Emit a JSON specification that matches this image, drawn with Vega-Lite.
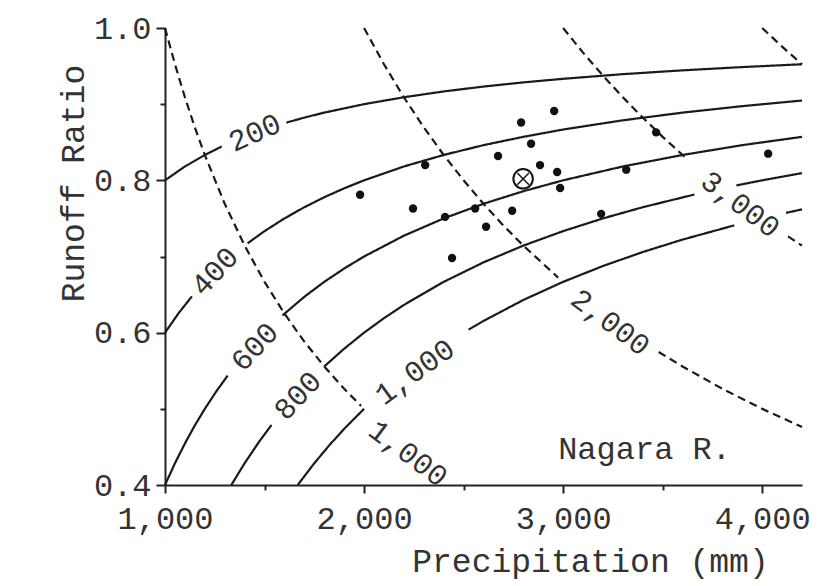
{
  "$schema": "https://vega.github.io/schema/vega-lite/v6.json",
  "width": 637,
  "height": 457,
  "autosize": {"type": "none"},
  "padding": {"left": 165, "top": 28, "right": 35, "bottom": 101},
  "background": "white",
  "config": {
    "view": {"stroke": null},
    "axis": {
      "grid": false,
      "domainColor": "#222",
      "domainWidth": 2,
      "tickColor": "#222",
      "tickWidth": 2,
      "labelFont": "Liberation Mono",
      "labelFontSize": 32,
      "labelColor": "#333",
      "labelFlush": false,
      "titleFont": "Liberation Mono",
      "titleFontSize": 33,
      "titleFontWeight": "normal",
      "titleColor": "#333"
    }
  },
  "datasets": {
    "curves": [
      {"P": 1000, "R": 0.8, "seg": "E200a", "kind": "solid"},
      {"P": 1100, "R": 0.8182, "seg": "E200a", "kind": "solid"},
      {"P": 1200, "R": 0.8333, "seg": "E200a", "kind": "solid"},
      {"P": 1285, "R": 0.8444, "seg": "E200a", "kind": "solid"},
      {"P": 1610, "R": 0.8758, "seg": "E200b", "kind": "solid"},
      {"P": 1700, "R": 0.8824, "seg": "E200b", "kind": "solid"},
      {"P": 1800, "R": 0.8889, "seg": "E200b", "kind": "solid"},
      {"P": 2000, "R": 0.9, "seg": "E200b", "kind": "solid"},
      {"P": 2200, "R": 0.9091, "seg": "E200b", "kind": "solid"},
      {"P": 2400, "R": 0.9167, "seg": "E200b", "kind": "solid"},
      {"P": 2600, "R": 0.9231, "seg": "E200b", "kind": "solid"},
      {"P": 2800, "R": 0.9286, "seg": "E200b", "kind": "solid"},
      {"P": 3000, "R": 0.9333, "seg": "E200b", "kind": "solid"},
      {"P": 3300, "R": 0.9394, "seg": "E200b", "kind": "solid"},
      {"P": 3600, "R": 0.9444, "seg": "E200b", "kind": "solid"},
      {"P": 3900, "R": 0.9487, "seg": "E200b", "kind": "solid"},
      {"P": 4200, "R": 0.9524, "seg": "E200b", "kind": "solid"},

      {"P": 1000, "R": 0.6, "seg": "E400a", "kind": "solid"},
      {"P": 1070, "R": 0.6262, "seg": "E400a", "kind": "solid"},
      {"P": 1135, "R": 0.6476, "seg": "E400a", "kind": "solid"},
      {"P": 1415, "R": 0.7173, "seg": "E400b", "kind": "solid"},
      {"P": 1500, "R": 0.7333, "seg": "E400b", "kind": "solid"},
      {"P": 1600, "R": 0.75, "seg": "E400b", "kind": "solid"},
      {"P": 1700, "R": 0.7647, "seg": "E400b", "kind": "solid"},
      {"P": 1800, "R": 0.7778, "seg": "E400b", "kind": "solid"},
      {"P": 1900, "R": 0.7895, "seg": "E400b", "kind": "solid"},
      {"P": 2000, "R": 0.8, "seg": "E400b", "kind": "solid"},
      {"P": 2200, "R": 0.8182, "seg": "E400b", "kind": "solid"},
      {"P": 2400, "R": 0.8333, "seg": "E400b", "kind": "solid"},
      {"P": 2600, "R": 0.8462, "seg": "E400b", "kind": "solid"},
      {"P": 2800, "R": 0.8571, "seg": "E400b", "kind": "solid"},
      {"P": 3000, "R": 0.8667, "seg": "E400b", "kind": "solid"},
      {"P": 3300, "R": 0.8788, "seg": "E400b", "kind": "solid"},
      {"P": 3600, "R": 0.8889, "seg": "E400b", "kind": "solid"},
      {"P": 3900, "R": 0.8974, "seg": "E400b", "kind": "solid"},
      {"P": 4200, "R": 0.9048, "seg": "E400b", "kind": "solid"},

      {"P": 1000, "R": 0.4, "seg": "E600a", "kind": "solid"},
      {"P": 1050, "R": 0.4286, "seg": "E600a", "kind": "solid"},
      {"P": 1100, "R": 0.4545, "seg": "E600a", "kind": "solid"},
      {"P": 1150, "R": 0.4783, "seg": "E600a", "kind": "solid"},
      {"P": 1200, "R": 0.5, "seg": "E600a", "kind": "solid"},
      {"P": 1260, "R": 0.5238, "seg": "E600a", "kind": "solid"},
      {"P": 1315, "R": 0.5437, "seg": "E600a", "kind": "solid"},
      {"P": 1590, "R": 0.6226, "seg": "E600b", "kind": "solid"},
      {"P": 1700, "R": 0.6471, "seg": "E600b", "kind": "solid"},
      {"P": 1800, "R": 0.6667, "seg": "E600b", "kind": "solid"},
      {"P": 1900, "R": 0.6842, "seg": "E600b", "kind": "solid"},
      {"P": 2000, "R": 0.7, "seg": "E600b", "kind": "solid"},
      {"P": 2200, "R": 0.7273, "seg": "E600b", "kind": "solid"},
      {"P": 2400, "R": 0.75, "seg": "E600b", "kind": "solid"},
      {"P": 2600, "R": 0.7692, "seg": "E600b", "kind": "solid"},
      {"P": 2800, "R": 0.7857, "seg": "E600b", "kind": "solid"},
      {"P": 3000, "R": 0.8, "seg": "E600b", "kind": "solid"},
      {"P": 3300, "R": 0.8182, "seg": "E600b", "kind": "solid"},
      {"P": 3600, "R": 0.8333, "seg": "E600b", "kind": "solid"},
      {"P": 3900, "R": 0.8462, "seg": "E600b", "kind": "solid"},
      {"P": 4200, "R": 0.8571, "seg": "E600b", "kind": "solid"},

      {"P": 1333.3, "R": 0.4, "seg": "E800a", "kind": "solid"},
      {"P": 1400, "R": 0.4286, "seg": "E800a", "kind": "solid"},
      {"P": 1470, "R": 0.4558, "seg": "E800a", "kind": "solid"},
      {"P": 1535, "R": 0.4788, "seg": "E800a", "kind": "solid"},
      {"P": 1800, "R": 0.5556, "seg": "E800b", "kind": "solid"},
      {"P": 1900, "R": 0.5789, "seg": "E800b", "kind": "solid"},
      {"P": 2000, "R": 0.6, "seg": "E800b", "kind": "solid"},
      {"P": 2100, "R": 0.619, "seg": "E800b", "kind": "solid"},
      {"P": 2200, "R": 0.6364, "seg": "E800b", "kind": "solid"},
      {"P": 2400, "R": 0.6667, "seg": "E800b", "kind": "solid"},
      {"P": 2600, "R": 0.6923, "seg": "E800b", "kind": "solid"},
      {"P": 2800, "R": 0.7143, "seg": "E800b", "kind": "solid"},
      {"P": 3000, "R": 0.7333, "seg": "E800b", "kind": "solid"},
      {"P": 3200, "R": 0.75, "seg": "E800b", "kind": "solid"},
      {"P": 3400, "R": 0.7647, "seg": "E800b", "kind": "solid"},
      {"P": 3660, "R": 0.7814, "seg": "E800b", "kind": "solid"},
      {"P": 3870, "R": 0.7933, "seg": "E800c", "kind": "solid"},
      {"P": 4000, "R": 0.8, "seg": "E800c", "kind": "solid"},
      {"P": 4200, "R": 0.8095, "seg": "E800c", "kind": "solid"},

      {"P": 1666.7, "R": 0.4, "seg": "E1000a", "kind": "solid"},
      {"P": 1750, "R": 0.4286, "seg": "E1000a", "kind": "solid"},
      {"P": 1830, "R": 0.4536, "seg": "E1000a", "kind": "solid"},
      {"P": 1910, "R": 0.4764, "seg": "E1000a", "kind": "solid"},
      {"P": 2000, "R": 0.5, "seg": "E1000a", "kind": "solid"},
      {"P": 2525, "R": 0.604, "seg": "E1000b", "kind": "solid"},
      {"P": 2600, "R": 0.6154, "seg": "E1000b", "kind": "solid"},
      {"P": 2800, "R": 0.6429, "seg": "E1000b", "kind": "solid"},
      {"P": 3000, "R": 0.6667, "seg": "E1000b", "kind": "solid"},
      {"P": 3200, "R": 0.6875, "seg": "E1000b", "kind": "solid"},
      {"P": 3400, "R": 0.7059, "seg": "E1000b", "kind": "solid"},
      {"P": 3600, "R": 0.7222, "seg": "E1000b", "kind": "solid"},
      {"P": 3860, "R": 0.7409, "seg": "E1000b", "kind": "solid"},
      {"P": 4120, "R": 0.7573, "seg": "E1000c", "kind": "solid"},
      {"P": 4200, "R": 0.7619, "seg": "E1000c", "kind": "solid"},

      {"P": 1000, "R": 1.0, "seg": "Q1000", "kind": "dashed"},
      {"P": 1050, "R": 0.9524, "seg": "Q1000", "kind": "dashed"},
      {"P": 1100, "R": 0.9091, "seg": "Q1000", "kind": "dashed"},
      {"P": 1150, "R": 0.8696, "seg": "Q1000", "kind": "dashed"},
      {"P": 1200, "R": 0.8333, "seg": "Q1000", "kind": "dashed"},
      {"P": 1300, "R": 0.7692, "seg": "Q1000", "kind": "dashed"},
      {"P": 1400, "R": 0.7143, "seg": "Q1000", "kind": "dashed"},
      {"P": 1500, "R": 0.6667, "seg": "Q1000", "kind": "dashed"},
      {"P": 1600, "R": 0.625, "seg": "Q1000", "kind": "dashed"},
      {"P": 1700, "R": 0.5882, "seg": "Q1000", "kind": "dashed"},
      {"P": 1800, "R": 0.5556, "seg": "Q1000", "kind": "dashed"},
      {"P": 1900, "R": 0.5263, "seg": "Q1000", "kind": "dashed"},
      {"P": 1985, "R": 0.5038, "seg": "Q1000", "kind": "dashed"},

      {"P": 2000, "R": 1.0, "seg": "Q2000a", "kind": "dashed"},
      {"P": 2100, "R": 0.9524, "seg": "Q2000a", "kind": "dashed"},
      {"P": 2200, "R": 0.9091, "seg": "Q2000a", "kind": "dashed"},
      {"P": 2300, "R": 0.8696, "seg": "Q2000a", "kind": "dashed"},
      {"P": 2400, "R": 0.8333, "seg": "Q2000a", "kind": "dashed"},
      {"P": 2500, "R": 0.8, "seg": "Q2000a", "kind": "dashed"},
      {"P": 2600, "R": 0.7692, "seg": "Q2000a", "kind": "dashed"},
      {"P": 2700, "R": 0.7407, "seg": "Q2000a", "kind": "dashed"},
      {"P": 2800, "R": 0.7143, "seg": "Q2000a", "kind": "dashed"},
      {"P": 2975, "R": 0.6723, "seg": "Q2000a", "kind": "dashed"},
      {"P": 3480, "R": 0.5747, "seg": "Q2000b", "kind": "dashed"},
      {"P": 3600, "R": 0.5556, "seg": "Q2000b", "kind": "dashed"},
      {"P": 3800, "R": 0.5263, "seg": "Q2000b", "kind": "dashed"},
      {"P": 4000, "R": 0.5, "seg": "Q2000b", "kind": "dashed"},
      {"P": 4200, "R": 0.4762, "seg": "Q2000b", "kind": "dashed"},

      {"P": 3000, "R": 1.0, "seg": "Q3000a", "kind": "dashed"},
      {"P": 3100, "R": 0.9677, "seg": "Q3000a", "kind": "dashed"},
      {"P": 3200, "R": 0.9375, "seg": "Q3000a", "kind": "dashed"},
      {"P": 3300, "R": 0.9091, "seg": "Q3000a", "kind": "dashed"},
      {"P": 3400, "R": 0.8824, "seg": "Q3000a", "kind": "dashed"},
      {"P": 3500, "R": 0.8571, "seg": "Q3000a", "kind": "dashed"},
      {"P": 3610, "R": 0.831, "seg": "Q3000a", "kind": "dashed"},
      {"P": 4130, "R": 0.7264, "seg": "Q3000b", "kind": "dashed"},
      {"P": 4200, "R": 0.7143, "seg": "Q3000b", "kind": "dashed"},

      {"P": 4000, "R": 1.0, "seg": "Q4000", "kind": "dashed"},
      {"P": 4100, "R": 0.9756, "seg": "Q4000", "kind": "dashed"},
      {"P": 4200, "R": 0.9524, "seg": "Q4000", "kind": "dashed"}
    ],
    "points": [
      {"P": 2955, "R": 0.891},
      {"P": 2789, "R": 0.876},
      {"P": 2839, "R": 0.848},
      {"P": 2673, "R": 0.832},
      {"P": 2307, "R": 0.82},
      {"P": 2884, "R": 0.82},
      {"P": 2970, "R": 0.811},
      {"P": 2985, "R": 0.79},
      {"P": 3317, "R": 0.814},
      {"P": 3467, "R": 0.863},
      {"P": 4030, "R": 0.835},
      {"P": 1980, "R": 0.781},
      {"P": 2246, "R": 0.763},
      {"P": 2407, "R": 0.752},
      {"P": 2558, "R": 0.763},
      {"P": 2744, "R": 0.76},
      {"P": 2613, "R": 0.739},
      {"P": 3191, "R": 0.756},
      {"P": 2442, "R": 0.698}
    ],
    "mean": [
      {"P": 2799, "R": 0.802}
    ],
    "labels": [
      {"P": 1452, "R": 0.862, "label": "200", "group": "a"},
      {"P": 1251, "R": 0.68, "label": "400", "group": "b"},
      {"P": 1452, "R": 0.581, "label": "600", "group": "b"},
      {"P": 1668, "R": 0.517, "label": "800", "group": "b"},
      {"P": 2256, "R": 0.548, "label": "1,000", "group": "c"},
      {"P": 2220, "R": 0.441, "label": "1,000", "group": "d"},
      {"P": 3236, "R": 0.613, "label": "2,000", "group": "d"},
      {"P": 3889, "R": 0.768, "label": "3,000", "group": "d"}
    ],
    "note": [
      {"P": 2975, "R": 0.434, "label": "Nagara R."}
    ]
  },
  "layer": [
    {
      "data": {"name": "curves"},
      "mark": {"type": "line", "color": "#1a1a1a", "strokeWidth": 2.2},
      "encoding": {
        "x": {
          "field": "P", "type": "quantitative",
          "scale": {"domain": [1000, 4200], "nice": false, "zero": false},
          "axis": {
            "values": [1000, 1500, 2000, 2500, 3000, 3500, 4000],
            "labelExpr": "datum.value % 1000 === 0 ? format(datum.value, ',') : ''",
            "tickSize": {"condition": {"test": "datum.value % 1000 === 0", "value": 8}, "value": 5},
            "labelPadding": 10,
            "title": "Precipitation (mm)",
            "titleX": 425,
            "titleY": 86,
            "titleAlign": "center",
            "titleBaseline": "alphabetic"
          }
        },
        "y": {
          "field": "R", "type": "quantitative",
          "scale": {"domain": [0.4, 1.0], "nice": false, "zero": false},
          "axis": {
            "values": [0.4, 0.5, 0.6, 0.7, 0.8, 0.9, 1.0],
            "labelExpr": "round(datum.value * 10) % 2 === 0 ? format(datum.value, '.1f') : ''",
            "tickSize": {"condition": {"test": "round(datum.value * 10) % 2 === 0", "value": 9}, "value": 5},
            "labelPadding": 5,
            "title": "Runoff Ratio",
            "titleX": -92,
            "titleY": 155,
            "titleAngle": -90,
            "titleAlign": "center",
            "titleBaseline": "middle"
          }
        },
        "detail": {"field": "seg"},
        "strokeDash": {
          "field": "kind", "type": "nominal",
          "scale": {"domain": ["solid", "dashed"], "range": [[1, 0], [8, 5]]},
          "legend": null
        }
      }
    },
    {
      "data": {"name": "points"},
      "mark": {"type": "point", "shape": "circle", "filled": true, "color": "#111", "size": 70, "opacity": 1},
      "encoding": {
        "x": {"field": "P", "type": "quantitative"},
        "y": {"field": "R", "type": "quantitative"}
      }
    },
    {
      "data": {"name": "mean"},
      "mark": {"type": "point", "shape": "circle", "filled": false, "color": "#111", "size": 380, "strokeWidth": 2, "opacity": 1},
      "encoding": {
        "x": {"field": "P", "type": "quantitative"},
        "y": {"field": "R", "type": "quantitative"}
      }
    },
    {
      "data": {"name": "mean"},
      "mark": {"type": "point", "shape": "M-0.6,-0.6L0.6,0.6M-0.6,0.6L0.6,-0.6", "filled": false, "color": "#111", "size": 380, "strokeWidth": 1.5, "opacity": 1},
      "encoding": {
        "x": {"field": "P", "type": "quantitative"},
        "y": {"field": "R", "type": "quantitative"}
      }
    },
    {
      "data": {"name": "labels"},
      "transform": [{"filter": "datum.group === 'a'"}],
      "mark": {"type": "text", "font": "Liberation Mono", "fontSize": 30, "color": "#333", "angle": -24, "align": "center", "baseline": "middle"},
      "encoding": {
        "x": {"field": "P", "type": "quantitative"},
        "y": {"field": "R", "type": "quantitative"},
        "text": {"field": "label"}
      }
    },
    {
      "data": {"name": "labels"},
      "transform": [{"filter": "datum.group === 'b'"}],
      "mark": {"type": "text", "font": "Liberation Mono", "fontSize": 30, "color": "#333", "angle": -47, "align": "center", "baseline": "middle"},
      "encoding": {
        "x": {"field": "P", "type": "quantitative"},
        "y": {"field": "R", "type": "quantitative"},
        "text": {"field": "label"}
      }
    },
    {
      "data": {"name": "labels"},
      "transform": [{"filter": "datum.group === 'c'"}],
      "mark": {"type": "text", "font": "Liberation Mono", "fontSize": 30, "color": "#333", "angle": -36, "align": "center", "baseline": "middle"},
      "encoding": {
        "x": {"field": "P", "type": "quantitative"},
        "y": {"field": "R", "type": "quantitative"},
        "text": {"field": "label"}
      }
    },
    {
      "data": {"name": "labels"},
      "transform": [{"filter": "datum.group === 'd'"}],
      "mark": {"type": "text", "font": "Liberation Mono", "fontSize": 30, "color": "#333", "angle": 37, "align": "center", "baseline": "middle"},
      "encoding": {
        "x": {"field": "P", "type": "quantitative"},
        "y": {"field": "R", "type": "quantitative"},
        "text": {"field": "label"}
      }
    },
    {
      "data": {"name": "note"},
      "mark": {"type": "text", "font": "Liberation Mono", "fontSize": 32, "color": "#333", "align": "left", "baseline": "alphabetic"},
      "encoding": {
        "x": {"field": "P", "type": "quantitative"},
        "y": {"field": "R", "type": "quantitative"},
        "text": {"field": "label"}
      }
    }
  ]
}
